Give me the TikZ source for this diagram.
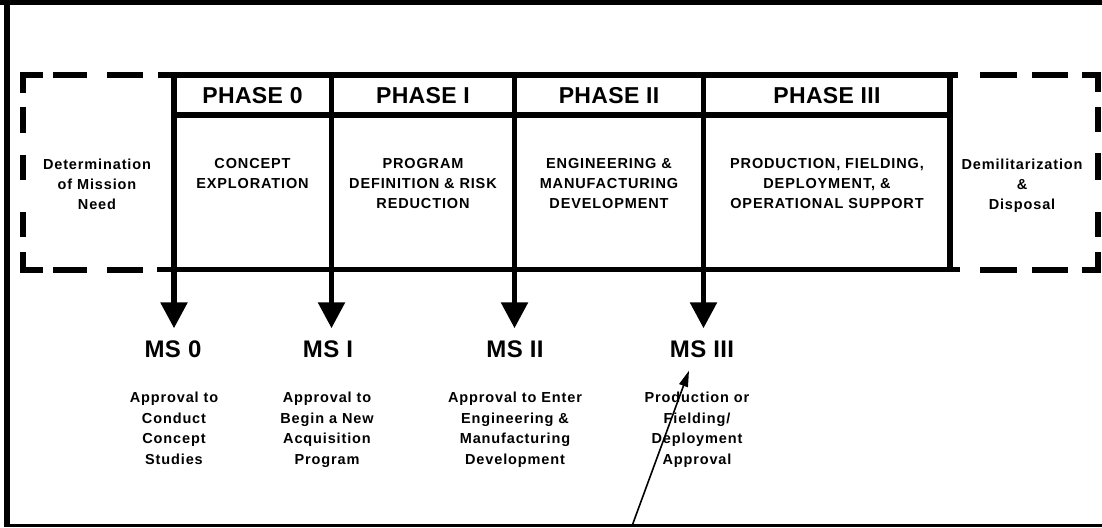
\documentclass[tikz,border=0pt]{standalone}
\usepackage{fontspec}
\setmainfont{Liberation Sans}[LetterSpace=6]
\newfontfamily\headfont{Liberation Sans}[LetterSpace=1.5]
\usetikzlibrary{arrows.meta,calc}

\tikzset{
  boxrule/.style={line width=5.5pt, line cap=butt, line join=miter},
  dashrule/.style={line width=5.5pt, line cap=butt, line join=miter},
  msarrow/.style={line width=5.5pt, -{Triangle[length=26pt,width=26pt]}},
  pointer/.style={line width=1.6pt, -{Triangle[length=16pt,width=9pt]}},
  coltext/.style={font=\bfseries\fontsize{14.5}{20}\selectfont, align=center, inner sep=0pt, anchor=north},
  headtext/.style={font=\headfont\bfseries\fontsize{23}{25}\selectfont, inner sep=0pt},
  mstext/.style={font=\headfont\bfseries\fontsize{24}{26}\selectfont, inner sep=0pt},
  desctext/.style={font=\bfseries\fontsize{14.5}{20.8}\selectfont, align=center, inner sep=0pt, anchor=north},
}

\begin{document}
\begin{tikzpicture}[x=1pt,y=-1pt]
\useasboundingbox (0,0) rectangle (1102,527);

% outer frame (left, top, bottom)
\draw[line width=6pt] (7,0) -- (7,527);
\draw[line width=5pt] (0,2.5) -- (1102,2.5);
\draw[line width=3pt] (4,525.5) -- (1102,525.5);

% dashed outline of the pre- and post-phase blocks
\draw[dashrule]
  (23,93) -- (23,75) -- (43,75)
  (53,75) -- (87,75)  (107,75) -- (143,75)
  (23,107) -- (23,133)  (23,155) -- (23,180)  (23,212) -- (23,237)
  (23,252) -- (23,270) -- (43,270)
  (53,270) -- (87,270)  (107,270) -- (143,270);
\draw[dashrule]
  (980,75) -- (1017,75)  (1032,75) -- (1068,75)
  (1082,75) -- (1098,75) -- (1098,92)
  (1098,107) -- (1098,132)  (1098,153) -- (1098,180)  (1098,212) -- (1098,237)
  (1098,252) -- (1098,270) -- (1082,270)
  (980,270) -- (1017,270)  (1032,270) -- (1068,270);

% solid phase block
\draw[boxrule] (158,75) -- (958,75);
\draw[boxrule] (157,269.5) -- (960,269.5);
\draw[boxrule] (174,115) -- (950,115);
\coordinate (v4top) at (950,75);
\draw[boxrule] (v4top) -- ++(0,195);

% phase headers
\node[headtext] (ph0) at (252.5,95.5) {PHASE 0};
\node[headtext] (ph1) at (423,95.5) {PHASE I};
\node[headtext] (ph2) at (609,95.5) {PHASE II};
\node[headtext] (ph3) at (827,95.5) {PHASE III};

% column contents
\node[coltext] (need)  at (97,158.5)  {Determination\\of Mission\\Need};
\node[coltext] (ce)    at (252.5,158.5) {CONCEPT\\EXPLORATION};
\node[coltext] (pdrr)  at (423,158.5) {PROGRAM\\DEFINITION \& RISK\\REDUCTION};
\node[coltext] (emd)   at (609,158.5) {ENGINEERING \&\\MANUFACTURING\\DEVELOPMENT};
\node[coltext] (pfd)   at (827,158.5) {PRODUCTION, FIELDING,\\DEPLOYMENT, \&\\OPERATIONAL SUPPORT};
\node[coltext] (demil) at (1022,158.5) {Demilitarization\\\&\\Disposal};

% milestone labels
\node[mstext] (ms0) at (173,349) {MS 0};
\node[mstext] (ms1) at (328,349) {MS I};
\node[mstext] (ms2) at (515,349) {MS II};
\node[mstext] (ms3) at (702,349) {MS III};

\node[desctext] (d0) at (174,391.5) {Approval to\\Conduct\\Concept\\Studies};
\node[desctext] (d1) at (327,391.5) {Approval to\\Begin a New\\Acquisition\\Program};
\node[desctext] (d2) at (515,391.5) {Approval to Enter\\Engineering \&\\Manufacturing\\Development};
\node[desctext] (d3) at (697,391.5) {Production or\\Fielding/\\Deployment\\Approval};

% phase boundaries running down into the milestone arrows
\coordinate (v0top) at (174,75);
\coordinate (v1top) at (331.5,75);
\coordinate (v2top) at (514.5,75);
\coordinate (v3top) at (703.5,75);
\draw[msarrow] (v0top) -- ($(v0top |- ms0.north)+(0,-12)$);
\draw[msarrow] (v1top) -- ($(v1top |- ms1.north)+(0,-12)$);
\draw[msarrow] (v2top) -- ($(v2top |- ms2.north)+(0,-12)$);
\draw[msarrow] (v3top) -- ($(v3top |- ms3.north)+(0,-12)$);

% pointer to MS III
\coordinate (tail) at (632,526);
\draw[pointer] (tail) -- ($(ms3.south)+(-13,13)$);
\end{tikzpicture}
\end{document}
